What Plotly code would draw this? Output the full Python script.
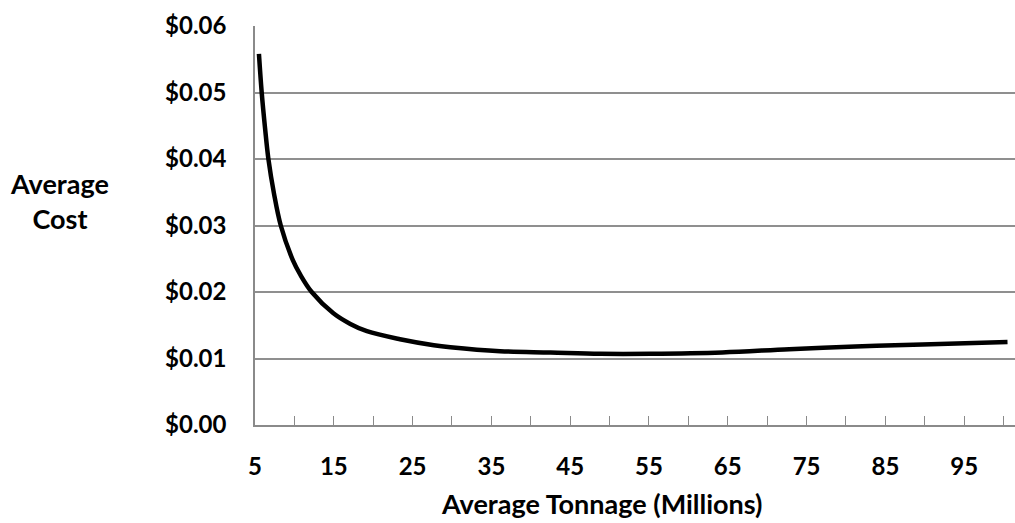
import plotly.graph_objects as go

# Data
tonnage = [5.5, 5.85, 6.27, 6.7, 7.41, 8.27, 9.8, 10.8, 12.2, 14.95, 17.1, 19.2,
           23.4, 27.7, 29.8, 36.1, 42.5, 48.8, 55.2, 64.3, 72.8, 81.2, 89.7, 100.5]
avg_cost = [0.0558, 0.0500, 0.0447, 0.0400, 0.0348, 0.0300, 0.0248, 0.0225, 0.0200,
            0.0168, 0.0152, 0.0141, 0.0129, 0.0120, 0.0117, 0.0111, 0.0109, 0.0107,
            0.0107, 0.0109, 0.0114, 0.0118, 0.0121, 0.0125]

x_tick_vals = [5, 15, 25, 35, 45, 55, 65, 75, 85, 95]
x_tick_text = [str(v) for v in x_tick_vals]
y_tick_vals = [0, 0.01, 0.02, 0.03, 0.04, 0.05, 0.06]
y_tick_text = ["$0.00", "$0.01", "$0.02", "$0.03", "$0.04", "$0.05", "$0.06"]

FONT = "Lato"
fig = go.Figure()
fig.add_trace(go.Scatter(
    x=tonnage, y=avg_cost, mode="lines",
    line=dict(color="black", width=4.5, shape="spline", smoothing=1.0),
    hoverinfo="skip", showlegend=False,
))

fig.update_layout(
    width=1015, height=523,
    margin=dict(l=255, r=0, t=26, b=98),
    paper_bgcolor="white", plot_bgcolor="white",
    font=dict(family=FONT, color="black"),
    showlegend=False,
)
fig.update_xaxes(
    range=[5, 101.45],
    tickmode="array", tickvals=x_tick_vals, ticktext=x_tick_text,
    ticks="inside", ticklen=9, tickcolor="#8a8a8a", tickwidth=1,
    minor=dict(dtick=5, tick0=5, ticks="inside", ticklen=9, tickcolor="#8a8a8a", tickwidth=1, showgrid=False),
    showgrid=False, zeroline=False,
    showline=True, linecolor="#8a8a8a", linewidth=1.5,
    tickfont=dict(family=FONT, size=24, color="black", weight="bold"),
    ticklabelstandoff=19,
)
fig.update_yaxes(
    range=[0, 0.06],
    tickmode="array", tickvals=y_tick_vals, ticktext=y_tick_text,
    ticks="", showgrid=True, gridcolor="#8f8f8f", gridwidth=1.5,
    zeroline=False, showline=True, linecolor="#8a8a8a", linewidth=1.5,
    tickfont=dict(family=FONT, size=24, color="black", weight="bold"),
    ticklabelstandoff=22,
)

fig.add_annotation(
    xref="paper", yref="paper", x=(60 - 255) / 760, y=(425 - 201) / 399,
    text="Average<br>Cost", showarrow=False, align="center",
    font=dict(family=FONT, size=27, color="black", weight="bold"),
    xanchor="center", yanchor="middle",
)
fig.add_annotation(
    xref="paper", yref="paper", x=(602 - 255) / 760, y=(425 - 503) / 399,
    text="Average Tonnage (Millions)", showarrow=False,
    font=dict(family=FONT, size=27, color="black", weight="bold"),
    xanchor="center", yanchor="middle",
)

fig.write_html("out.html")
